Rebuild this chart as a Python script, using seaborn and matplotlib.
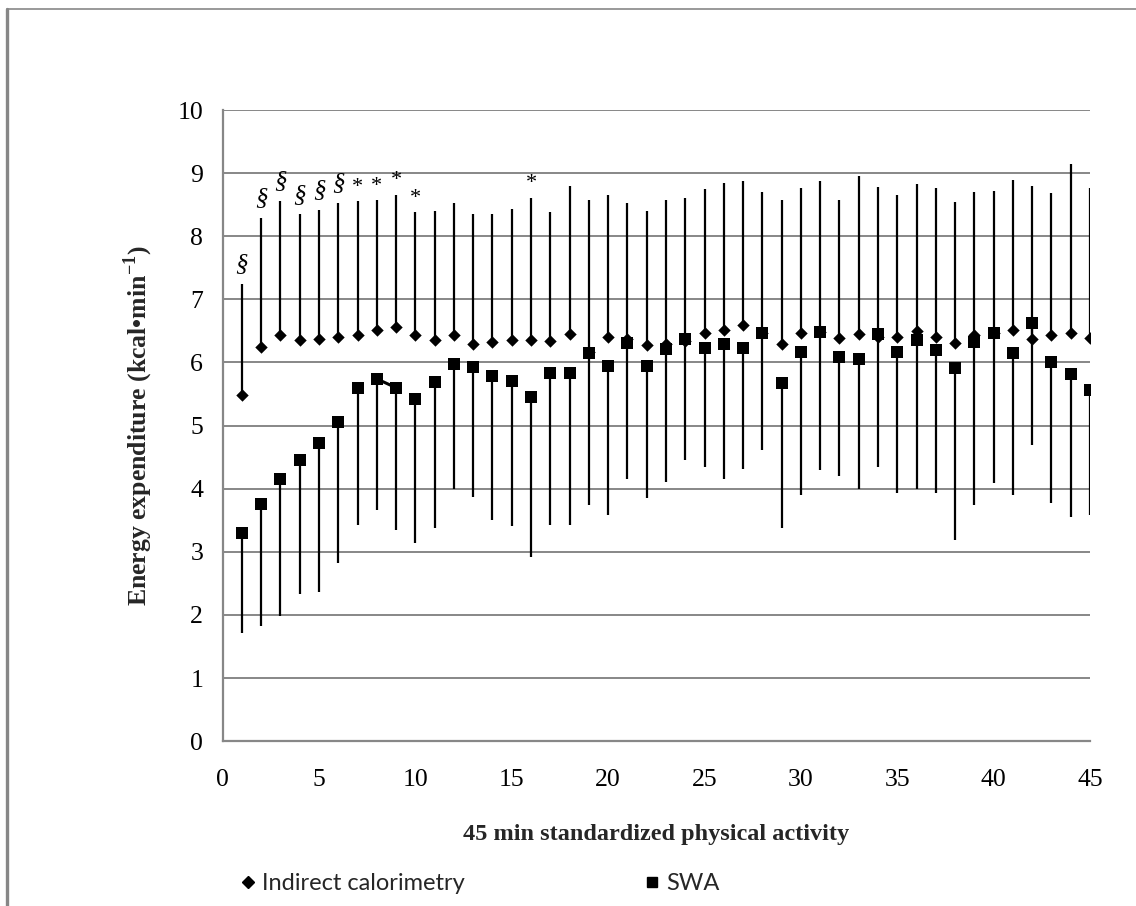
import matplotlib
matplotlib.use("Agg")
import matplotlib.pyplot as plt
from matplotlib.lines import Line2D
import seaborn as sns
import numpy as np
import pandas as pd

# ---- data ----
minutes = list(range(1, 46))
ic_mean = [5.49, 6.25, 6.43, 6.35, 6.37, 6.41, 6.43, 6.52, 6.56, 6.44,
           6.35, 6.44, 6.29, 6.33, 6.35, 6.35, 6.34, 6.45, 6.17, 6.41,
           6.38, 6.28, 6.30, 6.34, 6.46, 6.51, 6.59, 6.47, 6.30, 6.47,
           6.48, 6.39, 6.45, 6.40, 6.40, 6.50, 6.41, 6.31, 6.43, 6.46,
           6.51, 6.38, 6.43, 6.47, 6.39]
ic_upper = [7.25, 8.29, 8.56, 8.35, 8.42, 8.53, 8.56, 8.57, 8.66, 8.38,
            8.40, 8.53, 8.36, 8.36, 8.43, 8.61, 8.38, 8.80, 8.57, 8.66,
            8.52, 8.40, 8.57, 8.61, 8.75, 8.84, 8.88, 8.70, 8.57, 8.77,
            8.87, 8.57, 8.95, 8.78, 8.66, 8.83, 8.77, 8.55, 8.70, 8.72,
            8.89, 8.80, 8.68, 9.15, 8.77]
swa_mean = [3.29, 3.76, 4.16, 4.46, 4.73, 5.06, 5.59, 5.74, 5.60, 5.42,
            5.69, 5.97, 5.93, 5.79, 5.71, 5.46, 5.83, 5.83, 6.15, 5.95,
            6.31, 5.95, 6.22, 6.38, 6.23, 6.29, 6.23, 6.47, 5.68, 6.17,
            6.48, 6.09, 6.06, 6.45, 6.17, 6.35, 6.20, 5.91, 6.32, 6.46,
            6.15, 6.63, 6.01, 5.82, 5.57]
swa_lower = [1.71, 1.82, 1.99, 2.33, 2.36, 2.82, 3.42, 3.66, 3.34, 3.14,
             3.37, 4.00, 3.87, 3.51, 3.41, 2.91, 3.42, 3.42, 3.74, 3.59,
             4.15, 3.85, 4.10, 4.46, 4.34, 4.15, 4.31, 4.61, 3.37, 3.90,
             4.29, 4.20, 4.00, 4.34, 3.93, 4.00, 3.93, 3.18, 3.74, 4.09,
             3.90, 4.70, 3.78, 3.55, 3.58]
sig_minutes = [1, 2, 3, 4, 5, 6, 7, 8, 9, 10, 16]
sig_marks = ["§", "§", "§", "§", "§", "§", "*", "*", "*", "*", "*"]

x_ticks = list(range(0, 46, 5))
y_ticks = list(range(0, 11))

df = pd.DataFrame({"minute": minutes, "ic": ic_mean, "ic_hi": ic_upper,
                   "swa": swa_mean, "swa_lo": swa_lower})

sns.set_theme(style="white")
plt.rcParams["font.family"] = ["Liberation Serif", "DejaVu Serif"]
plt.rcParams["mathtext.fontset"] = "custom"
plt.rcParams["mathtext.rm"] = "Liberation Serif"
plt.rcParams["mathtext.bf"] = "Liberation Serif:bold"

GRAY = "#878787"
fig = plt.figure(figsize=(11.36, 9.06), dpi=100)
ax = fig.add_axes([0.196, 0.182, 0.7635, 0.6965])

# error bars
ax.vlines(df["minute"], df["ic"], df["ic_hi"], color="black", lw=1.6, zorder=3)
ax.vlines(df["minute"], df["swa_lo"], df["swa"], color="black", lw=1.6, zorder=3)
# small connecting segment visible between minute 8 and 9 of SWA
ax.plot(df["minute"][7:9], df["swa"][7:9], color="black", lw=2.2, zorder=3)

sns.scatterplot(data=df, x="minute", y="ic", marker="D", s=40, color="black",
                edgecolor="black", linewidth=0, ax=ax, zorder=4, legend=False)
sns.scatterplot(data=df, x="minute", y="swa", marker="s", s=70, color="black",
                edgecolor="black", linewidth=0, ax=ax, zorder=4, legend=False)

# significance marks
for m, s in zip(sig_minutes, sig_marks):
    top = ic_upper[m - 1]
    if s == "§":
        ax.text(m, top + 0.31, s, ha="center", va="center", fontsize=18,
                fontstyle="italic", color="black", zorder=5)
    else:
        ax.text(m, top + 0.22, s, ha="center", va="center", fontsize=16,
                color="black", zorder=5)

ax.set_xlim(0, 45)
ax.set_ylim(0, 10)
ax.set_xticks(x_ticks)
ax.set_yticks(y_ticks)
ax.yaxis.grid(True, color=GRAY, lw=1.4)
ax.xaxis.grid(False)
for side in ["top", "right"]:
    ax.spines[side].set_visible(False)
for side in ["left", "bottom"]:
    ax.spines[side].set_color(GRAY)
    ax.spines[side].set_linewidth(1.6)
ax.tick_params(axis="both", direction="out", width=1.6, labelsize=18.5,
               labelcolor="black")
ax.tick_params(axis="x", length=8, pad=12)
ax.tick_params(axis="y", length=10, pad=4)
for t in ax.get_xticklines() + ax.get_yticklines():
    t.set_color(GRAY)

ax.set_xlabel("45 min standardized physical activity", fontsize=17.5,
              fontweight="bold", labelpad=24)
ax.set_ylabel(r"Energy expenditure (kcal•min$^{\mathbf{-1}}$)", fontsize=18.5,
              fontweight="bold", labelpad=16)

# legend
handles = [Line2D([], [], marker="D", color="black", ls="none", markersize=6),
           Line2D([], [], marker="s", color="black", ls="none", markersize=7)]
fig.legend(handles, ["Indirect calorimetry", "SWA"], ncol=2,
           loc="center left", bbox_to_anchor=(0.194, 1 - 884 / 906),
           frameon=False, handlelength=0.5, handletextpad=0.35,
           columnspacing=7.7, prop={"family": "Lato", "size": 17})

# outer frame lines
fig.add_artist(Line2D([7 / 1136, 1.0], [1 - 9 / 906, 1 - 9 / 906],
                      color=GRAY, lw=1.2, transform=fig.transFigure))
fig.add_artist(Line2D([7 / 1136, 7 / 1136], [0, 1 - 9 / 906],
                      color=GRAY, lw=2.4, transform=fig.transFigure))

fig.savefig("out.png", dpi=100, facecolor="white")
